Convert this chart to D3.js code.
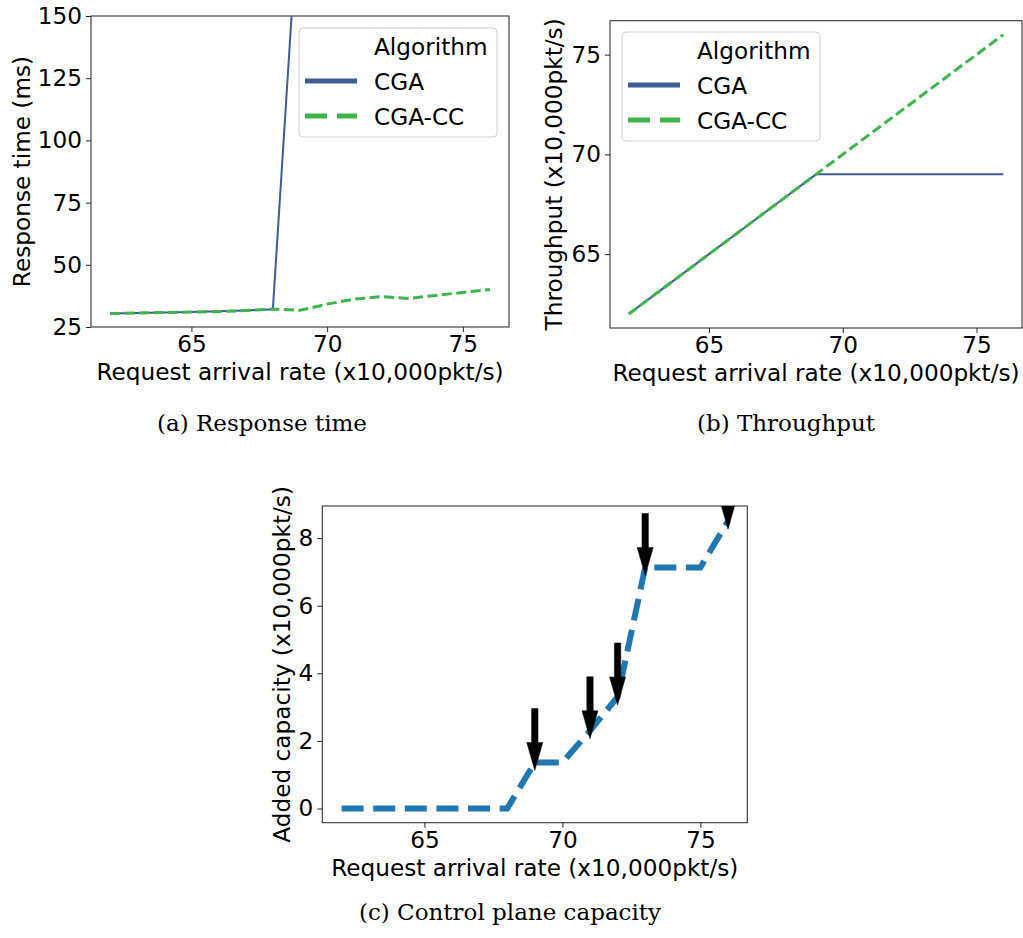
<!DOCTYPE html>
<html>
<head>
<meta charset="utf-8">
<script src="https://cdn.jsdelivr.net/npm/d3@7"></script>
<style>
  body { margin: 0; background: #fff; }
  svg text { font-family: "DejaVu Sans", sans-serif; fill: #000; }
</style>
</head>
<body>
<svg id="fig" width="1023" height="938"></svg>
<script>
// request arrival rate (x10,000 pkt/s)
const rates = [62, 63, 64, 65, 66, 67, 68, 69, 70, 71, 72, 73, 74, 75, 76];

// (a) response time, ms
const cgaResponse = [30.4, 30.6, 30.8, 31.0, 31.3, 31.6, 32.1, 203, 380, 560, 740, 920, 1100, 1280, 1460];
const ccResponse = [30.4, 30.6, 30.8, 31.0, 31.2, 31.6, 32.2, 31.7, 34.2, 36.2, 37.2, 36.5, 37.7, 38.9, 40.1];

// (b) throughput, x10,000 pkt/s
const cgaThroughput = [62, 63, 64, 65, 66, 67, 68, 69, 69, 69, 69, 69, 69, 69, 69];
const ccThroughput = [62, 63, 64, 65, 66, 67, 68, 69, 70, 71, 72, 73, 74, 75, 76];

// (c) added control plane capacity, x10,000 pkt/s
const addedCapacity = [0, 0, 0, 0, 0, 0, 0, 1.36, 1.36, 2.3, 3.3, 7.13, 7.13, 7.13, 8.5];
const scaleOutRates = [69, 71, 72, 73, 76];

const rateTicks = [65, 70, 75];
const responseTicks = [25, 50, 75, 100, 125, 150];
const throughputTicks = [65, 70, 75];
const capacityTicks = [0, 2, 4, 6, 8];

const seriesNames = ['CGA', 'CGA-CC'];
const BLUE = '#3f5b98';
const GREEN = '#3db54a';
const MPL_BLUE = '#1f77b4';

const svg = d3.select('#fig');
const FONT = 23.2;

function panel(opts) {
  const g = svg.append('g');
  const x = d3.scaleLinear().domain([61.3, 76.7]).range([opts.left, opts.right]);
  const y = d3.scaleLinear().domain(opts.yDomain).range([opts.bottom, opts.top]);

  const clipId = 'clip-' + opts.id;
  g.append('clipPath').attr('id', clipId)
    .append('rect')
    .attr('x', opts.left).attr('y', opts.top)
    .attr('width', opts.right - opts.left).attr('height', opts.bottom - opts.top);

  const xAxis = g.append('g')
    .attr('transform', `translate(0,${opts.bottom})`)
    .call(d3.axisBottom(x).tickValues(rateTicks).tickSize(5).tickPadding(4));
  const yAxis = g.append('g')
    .attr('transform', `translate(${opts.left},0)`)
    .call(d3.axisLeft(y).tickValues(opts.yTicks).tickSize(5).tickPadding(4));
  [xAxis, yAxis].forEach((a) => {
    a.select('.domain').remove();
    a.selectAll('text').style('font-size', FONT + 'px').style('font-family', '"DejaVu Sans", sans-serif');
    a.selectAll('line').attr('stroke', '#222').attr('stroke-width', 1);
  });

  g.append('rect')
    .attr('x', opts.left).attr('y', opts.top)
    .attr('width', opts.right - opts.left).attr('height', opts.bottom - opts.top)
    .attr('fill', 'none').attr('stroke', '#333').attr('stroke-width', 1.1);

  g.append('text')
    .attr('x', (opts.left + opts.right) / 2).attr('y', opts.xLabelY)
    .attr('text-anchor', 'middle').style('font-size', FONT + 'px')
    .text('Request arrival rate (x10,000pkt/s)');

  g.append('text')
    .attr('transform', `translate(${opts.yLabelX},${(opts.top + opts.bottom) / 2}) rotate(-90)`)
    .attr('text-anchor', 'middle').style('font-size', FONT + 'px')
    .text(opts.yLabel);

  const plot = g.append('g').attr('clip-path', `url(#${clipId})`);
  return { g, plot, x, y };
}

function legend(g, lx, ly) {
  g.append('rect')
    .attr('x', lx).attr('y', ly).attr('width', 198).attr('height', 109)
    .attr('rx', 4).attr('fill', '#fff').attr('fill-opacity', 0.8)
    .attr('stroke', '#d0d0d0').attr('stroke-width', 1);
  g.append('text').attr('x', lx + 75).attr('y', ly + 27)
    .style('font-size', FONT + 'px').text('Algorithm');
  const styles = [{ c: BLUE, dash: null }, { c: GREEN, dash: '22,10' }];
  seriesNames.forEach((name, i) => {
    const yy = ly + 53 + i * 35;
    g.append('line')
      .attr('x1', lx + 6).attr('x2', lx + 58).attr('y1', yy).attr('y2', yy)
      .attr('stroke', styles[i].c).attr('stroke-width', 5)
      .attr('stroke-dasharray', styles[i].dash);
    g.append('text').attr('x', lx + 75).attr('y', yy + 8.5)
      .style('font-size', FONT + 'px').text(name);
  });
}

function caption(cx, cy, label) {
  svg.append('text')
    .attr('x', cx).attr('y', cy).attr('text-anchor', 'middle')
    .style('font-family', '"DejaVu Serif", serif').style('font-size', '23px')
    .text(label);
}

// (a) Response time
{
  const p = panel({ id: 'a', left: 91, right: 509, top: 16, bottom: 327,
    yDomain: [25, 150], yTicks: responseTicks,
    yLabel: 'Response time (ms)', yLabelX: 30, xLabelY: 380 });
  const line = d3.line().x((d, i) => p.x(rates[i])).y((d) => p.y(d));
  p.plot.append('path').datum(cgaResponse).attr('d', line)
    .attr('fill', 'none').attr('stroke', BLUE).attr('stroke-width', 2);
  p.plot.append('path').datum(ccResponse).attr('d', line)
    .attr('fill', 'none').attr('stroke', GREEN).attr('stroke-width', 3)
    .attr('stroke-dasharray', '10,4.5');
  legend(p.g, 299, 28);
  caption(262, 431, '(a) Response time');
}

// (b) Throughput
{
  const p = panel({ id: 'b', left: 610, right: 1022, top: 20.7, bottom: 328,
    yDomain: [61.3, 76.7], yTicks: throughputTicks,
    yLabel: 'Throughput (x10,000pkt/s)', yLabelX: 562, xLabelY: 381 });
  const line = d3.line().x((d, i) => p.x(rates[i])).y((d) => p.y(d));
  p.plot.append('path').datum(cgaThroughput).attr('d', line)
    .attr('fill', 'none').attr('stroke', BLUE).attr('stroke-width', 2);
  p.plot.append('path').datum(ccThroughput).attr('d', line)
    .attr('fill', 'none').attr('stroke', GREEN).attr('stroke-width', 3)
    .attr('stroke-dasharray', '10,4.5');
  legend(p.g, 622, 32);
  caption(786, 431, '(b) Throughput');
}

// (c) Control plane capacity
{
  const p = panel({ id: 'c', left: 322.3, right: 747.3, top: 506, bottom: 822.7,
    yDomain: [-0.42, 8.95], yTicks: capacityTicks,
    yLabel: 'Added capacity (x10,000pkt/s)', yLabelX: 290, xLabelY: 876 });
  const line = d3.line().x((d, i) => p.x(rates[i])).y((d) => p.y(d));
  p.plot.append('path').datum(addedCapacity).attr('d', line)
    .attr('fill', 'none').attr('stroke', MPL_BLUE).attr('stroke-width', 6)
    .attr('stroke-dasharray', '22,9.6');

  // arrows marking scale-out points
  const arrowLen = 62, headLen = 28, headW = 8, shaftW = 3.2;
  scaleOutRates.forEach((r) => {
    const v = addedCapacity[rates.indexOf(r)];
    const cx = p.x(r);
    const tip = p.y(v) + 8;
    const top = tip - arrowLen;
    const hb = tip - headLen;
    const pts = [
      [cx - shaftW, top], [cx + shaftW, top], [cx + shaftW, hb], [cx + headW, hb],
      [cx, tip], [cx - headW, hb], [cx - shaftW, hb]
    ];
    p.plot.append('path')
      .attr('d', d3.line()(pts) + 'Z')
      .attr('fill', '#000').attr('stroke', '#000').attr('stroke-width', 0.5);
  });
  caption(510, 920, '(c) Control plane capacity');
}
</script>
</body>
</html>
